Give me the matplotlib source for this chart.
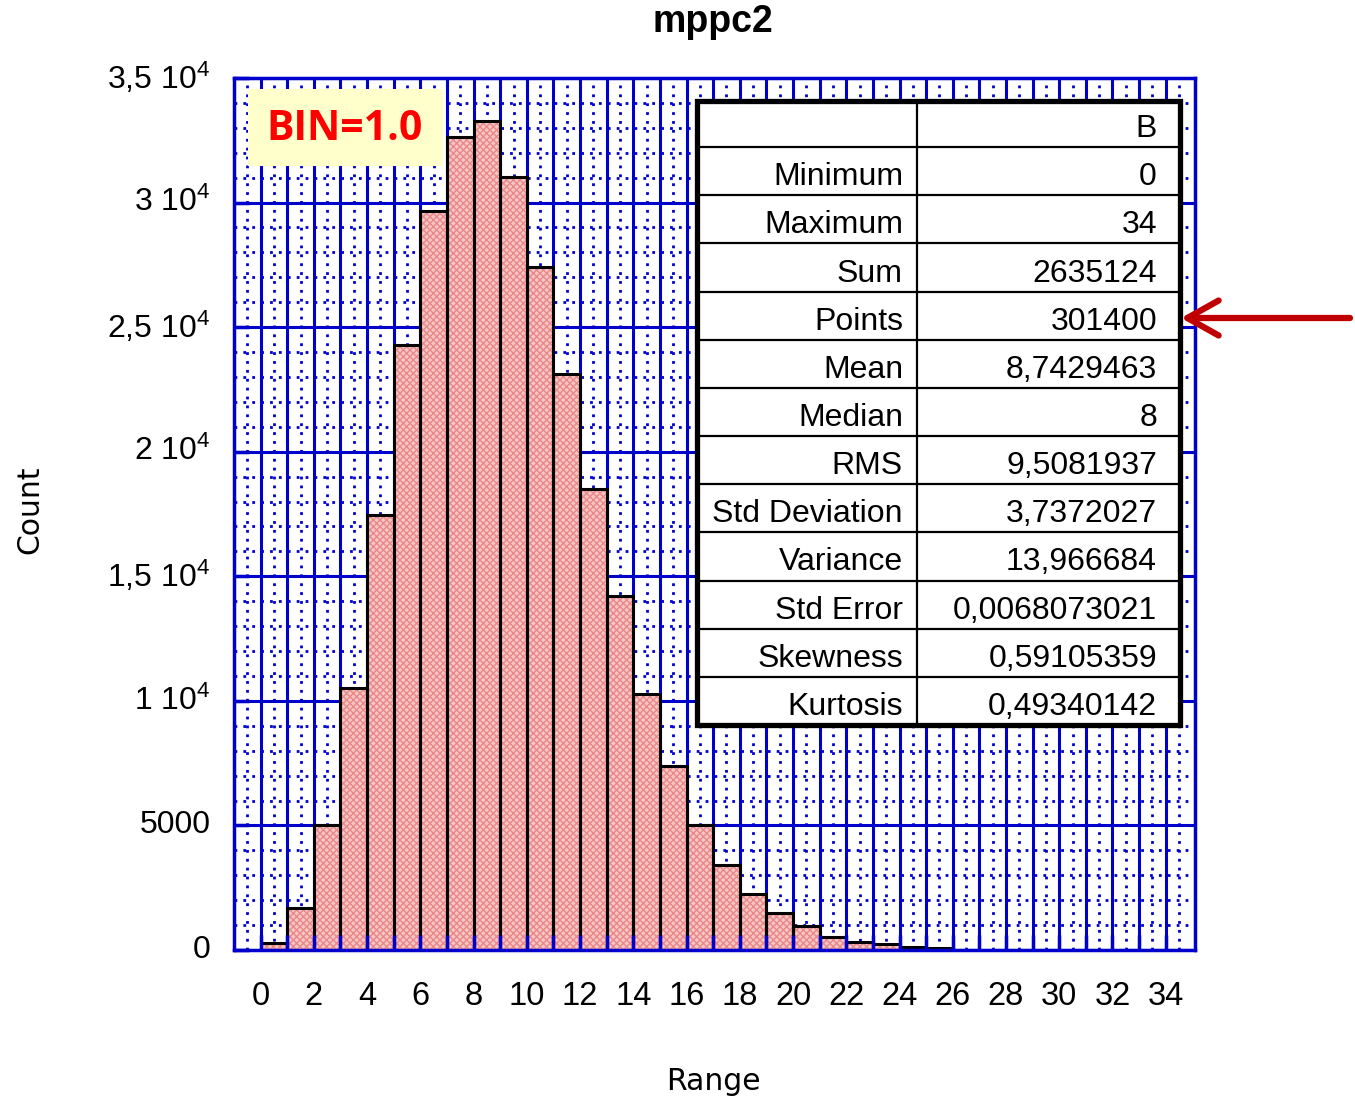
import matplotlib
matplotlib.use("Agg")
import matplotlib.pyplot as plt
from matplotlib.patches import Rectangle
from matplotlib.ticker import FixedLocator, FuncFormatter
import numpy as np

plt.rcParams['font.family'] = ['Liberation Sans', 'DejaVu Sans']
plt.rcParams['mathtext.default'] = 'regular'
plt.rcParams['hatch.linewidth'] = 1.0

# ---- data ----
bin_left = list(range(26))
counts = [300, 1700, 5000, 10500, 17450, 24300, 29650, 32650, 33280, 31030,
          27400, 23120, 18500, 14200, 10280, 7380, 5010, 3400, 2250, 1480,
          960, 520, 320, 240, 120, 80]
y_ticks = [0, 5000, 10000, 15000, 20000, 25000, 30000, 35000]
y_tick_labels = ['0', '5000', '1 10$^{4}$', '1,5 10$^{4}$', '2 10$^{4}$',
                 '2,5 10$^{4}$', '3 10$^{4}$', '3,5 10$^{4}$']
x_tick_labels_every = 2
stat_names = ['', 'Minimum', 'Maximum', 'Sum', 'Points', 'Mean', 'Median', 'RMS',
              'Std Deviation', 'Variance', 'Std Error', 'Skewness', 'Kurtosis']
stat_values = ['B', '0', '34', '2635124', '301400', '8,7429463', '8', '9,5081937',
               '3,7372027', '13,966684', '0,0068073021', '0,59105359', '0,49340142']
title = 'mppc2'
xlabel = 'Range'
ylabel = 'Count'
bin_text = 'BIN=1.0'

W, H = 1355, 1102
fig = plt.figure(figsize=(W / 100, H / 100), dpi=100)
L, R, T, B = 234, 1195, 78, 950
ax = fig.add_axes([L / W, 1 - B / H, (R - L) / W, (B - T) / H])

blue = '#0000cd'
ax.set_xlim(-1, 35.1)
ax.set_ylim(0, 35000)

# grid (manual, below bars)
xmaj = np.arange(0, 35)
xmin = np.arange(-0.5, 35, 1.0)
ymaj = np.array(y_ticks)
ymin = np.arange(1000, 35000, 1000)
ymin = ymin[ymin % 5000 != 0]
ax.vlines(xmin, 0, 35000, colors=blue, lw=2.0, linestyles=(0, (1, 2.2)), zorder=0.5)
ax.hlines(ymin, -1, 35.1, colors=blue, lw=2.0, linestyles=(0, (1, 2.2)), zorder=0.5)
ax.vlines(xmaj, 0, 35000, colors=blue, lw=2.2, zorder=0.6)
ax.hlines(ymaj, -1, 35.1, colors=blue, lw=2.2, zorder=0.6)

# bars
ax.bar(bin_left, counts, width=1.0, align='edge', facecolor='#f7c6c6',
       edgecolor='none', zorder=1)
ax.bar(bin_left, counts, width=1.0, align='edge', facecolor='none',
       edgecolor='#ea8888', hatch='xxxxx', lw=0, zorder=1.1)
ax.bar(bin_left, counts, width=1.0, align='edge', facecolor='none',
       edgecolor='black', lw=2.2, zorder=1.2)

for s in ax.spines.values():
    s.set_color(blue)
    s.set_linewidth(2.5)
    s.set_zorder(3)

ax.xaxis.set_major_locator(FixedLocator(xmaj))
ax.xaxis.set_major_formatter(FuncFormatter(
    lambda v, p: f'{int(round(v))}' if int(round(v)) % x_tick_labels_every == 0 else ''))
ax.yaxis.set_major_locator(FixedLocator(y_ticks))
ax.set_yticklabels(y_tick_labels)
ax.tick_params(axis='x', direction='in', length=11, width=2.5, color=blue,
               labelsize=23.5, pad=22)
ax.tick_params(axis='y', direction='in', length=11, width=2.5, color=blue,
               labelsize=23, pad=17)
for lbl in ax.get_yticklabels():
    lbl.set_verticalalignment('center')

# overlay in pixel coordinates
ov = fig.add_axes([0, 0, 1, 1])
ov.set_xlim(0, W)
ov.set_ylim(H, 0)
ov.axis('off')
ov.patch.set_alpha(0)

ov.text(713, 22, title, ha='center', va='center', fontsize=27, fontweight='bold')
ov.text(713, 1081, xlabel, ha='center', va='center', fontsize=21.5, family='DejaVu Sans')
ov.text(30, 510, ylabel, ha='center', va='center', fontsize=21.5, rotation=90,
        family='DejaVu Sans')

# BIN box
ov.add_patch(Rectangle((248, 89), 195, 77, facecolor='#ffffcc', edgecolor='none', zorder=2))
ov.text(345, 129, bin_text, ha='center', va='center', fontsize=29.5, fontweight='bold',
        color='#ff0000', family=['Open Sans', 'DejaVu Sans'], zorder=3)

# table
tl, tr, tt, tb, tm = 697, 1180, 101, 725, 917
first_line = 147
row_h = (tb - first_line) / (len(stat_names) - 1)
ov.add_patch(Rectangle((tl, tt), tr - tl, tb - tt, facecolor='white',
                       edgecolor='none', zorder=4))
for k in range(len(stat_names) - 1):
    yy = first_line + k * row_h
    ov.plot([tl, tr], [yy, yy], color='black', lw=1.6, zorder=5)
ov.plot([tm, tm], [tt, tb], color='black', lw=1.6, zorder=5)
ov.add_patch(Rectangle((tl, tt), tr - tl, tb - tt, facecolor='none',
                       edgecolor='black', lw=3.8, zorder=6))
for k, (n, v) in enumerate(zip(stat_names, stat_values)):
    base = first_line + k * row_h - 10
    ov.text(903, base, n, ha='right', va='baseline', fontsize=23, zorder=7)
    ov.text(1157, base, v, ha='right', va='baseline', fontsize=23, zorder=7)

# arrow
ov.annotate('', xy=(1181, 318), xytext=(1350, 318),
            arrowprops=dict(arrowstyle='->, head_length=0.75, head_width=0.42',
                            color='#c00000', lw=4.5, mutation_scale=30,
                            capstyle='round', joinstyle='round',
                            shrinkA=0, shrinkB=0), zorder=8)

fig.savefig('out.png', dpi=100)
